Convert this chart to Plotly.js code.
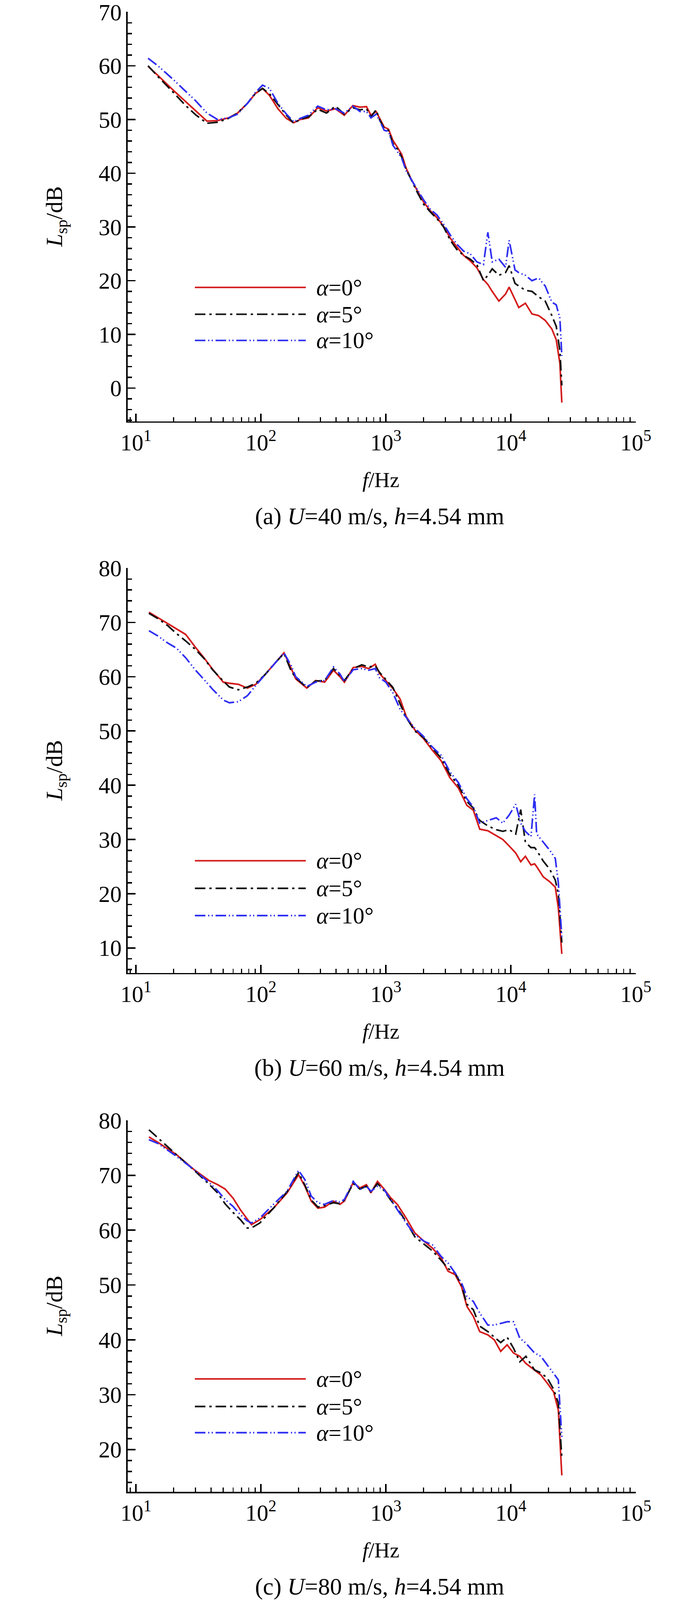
<!DOCTYPE html>
<html>
<head>
<meta charset="utf-8">
<script src="https://cdn.plot.ly/plotly-3.0.1.min.js"></script>
<style>
html, body { margin: 0; padding: 0; background: #fff; overflow: hidden; }
#plotter { width: 100vw; height: 100vh; }
</style>
</head>
<body>
<div id="plotter"></div>
<script>
// (a) U=40 m/s
var freqA = [12.5, 15, 20, 25, 30, 37, 45, 55, 65, 78, 90, 103, 117, 137, 160, 183, 206, 240, 285, 335,
    395, 465, 545, 620, 700, 760, 835, 890, 970, 1050, 1140, 1240, 1340, 1450, 1580, 1780, 2010, 2270, 2570, 2900,
    3280, 3700, 4190, 4730, 5350, 6040, 6550, 7100, 8030, 9070, 9700, 10800, 11580, 13080, 14780, 16700, 18860, 21300, 23100, 24700,
    25600];
var a0 = [59.9, 58.2, 55.4, 53.3, 51.6, 49.7, 49.8, 50.3, 51.2, 53.0, 54.8, 55.8, 54.5, 52.0, 50.2, 49.4, 50.0, 50.3, 52.2, 51.6,
    52.0, 50.8, 52.6, 52.3, 52.4, 50.8, 51.5, 50.2, 48.6, 48.2, 46.1, 44.8, 43.5, 41.0, 39.1, 36.8, 34.6, 33.0, 31.7, 30.1,
    27.9, 26.3, 24.7, 23.7, 22.4, 20.2, 19.3, 18.0, 16.2, 17.5, 18.8, 16.5, 15.0, 15.8, 13.8, 13.5, 12.6, 11.0, 9.0, 4.6,
    -2.7];
var a5 = [60.0, 58.0, 55.0, 52.6, 50.9, 49.3, 49.5, 50.2, 51.2, 53.0, 54.8, 55.8, 54.8, 52.8, 50.8, 49.3, 50.0, 50.5, 51.9, 51.2,
    52.5, 51.0, 52.2, 51.8, 52.0, 50.5, 51.8, 50.0, 48.3, 48.0, 45.5, 44.5, 43.0, 40.8, 39.0, 36.5, 34.2, 32.8, 31.5, 30.0,
    27.5, 25.8, 24.7, 24.0, 23.0, 20.0, 21.0, 22.2, 21.0, 21.5, 22.8, 19.5, 19.0, 18.2, 18.0, 17.0, 16.2, 13.5, 11.5, 7.0,
    0.5];
var a10 = [61.4, 60.0, 57.4, 55.2, 53.5, 51.2, 50.0, 50.3, 51.0, 53.0, 55.0, 56.4, 55.8, 53.0, 51.0, 49.6, 50.2, 50.8, 52.5, 51.8,
    52.0, 51.2, 52.5, 51.5, 51.5, 50.3, 51.0, 49.8, 48.0, 47.8, 45.2, 44.0, 42.8, 40.5, 39.0, 37.0, 35.0, 33.3, 32.2, 30.5,
    28.5, 26.8, 25.5, 25.0, 23.5, 23.0, 29.0, 23.5, 24.0, 22.5, 27.5, 22.0, 21.5, 21.0, 20.0, 20.5, 19.0, 16.0, 15.5, 13.0,
    6.0];

// (b) U=60 m/s
var freqB = [12.7, 15, 18, 21, 25, 30, 35, 41, 50, 56, 66, 78, 91, 107, 126, 153, 175, 190, 233, 274,
    324, 381, 429, 466, 548, 642, 728, 823, 890, 1000, 1140, 1300, 1454, 1705, 2000, 2364, 2770, 3250, 3800, 4450,
    5010, 5640, 6550, 7650, 8630, 9700, 10950, 12000, 13080, 14500, 15500, 16100, 18200, 20500, 22700, 24000, 25600];
var b0 = [71.9, 70.9, 69.8, 68.8, 67.8, 65.4, 63.5, 61.4, 59.0, 58.8, 58.6, 57.9, 58.6, 60.3, 62.2, 64.4, 61.5, 59.6, 57.9, 59.3,
    59.0, 61.2, 60.0, 59.0, 61.7, 61.9, 61.5, 62.3, 60.6, 59.3, 57.8, 55.9, 52.7, 50.2, 48.6, 46.4, 44.5, 41.4, 39.5, 36.3,
    35.4, 31.9, 31.6, 30.7, 30.0, 28.8, 27.5, 25.9, 26.9, 25.3, 25.5, 25.0, 23.1, 22.2, 21.2, 17.4, 8.9];
var b5 = [71.7, 70.7, 69.4, 68.0, 66.6, 65.0, 63.4, 61.3, 59.2, 58.1, 57.6, 58.1, 58.8, 60.3, 62.2, 64.3, 61.0, 59.8, 58.0, 59.2,
    59.3, 61.5, 60.2, 59.3, 61.5, 62.2, 61.8, 62.0, 60.8, 59.5, 58.0, 55.0, 52.5, 50.0, 48.8, 46.8, 45.0, 42.0, 40.0, 37.0,
    35.8, 33.5, 32.5, 31.8, 31.5, 31.8, 31.0, 35.5, 29.5, 28.5, 28.5, 28.0, 26.0, 24.5, 22.5, 20.0, 11.0];
var b10 = [68.5, 67.5, 66.2, 65.3, 63.5, 61.2, 59.5, 57.7, 55.7, 55.2, 55.4, 56.5, 58.4, 60.3, 62.2, 64.4, 62.0, 60.0, 58.2, 59.0,
    59.3, 61.8, 60.5, 59.1, 61.3, 61.5, 61.2, 61.5, 59.8, 59.0, 57.0, 54.0, 52.5, 50.5, 49.0, 47.0, 45.5, 42.5, 40.5, 37.5,
    36.0, 33.0, 33.5, 34.0, 33.0, 34.5, 36.5, 33.0, 31.5, 30.5, 38.3, 31.0, 29.5, 28.0, 26.5, 22.0, 12.0];

// (c) U=80 m/s
var freqC = [12.7, 15, 21, 29.3, 38.8, 45, 51.7, 60, 68.6, 77.7, 84, 98, 126, 162, 200, 225, 253, 286, 323, 381,
    429, 466, 548, 619, 699, 759, 857, 968, 1092, 1236, 1454, 1705, 2014, 2364, 2770, 3150, 3580, 4030, 4453, 5010,
    5640, 6551, 7380, 8300, 9340, 10500, 11800, 13200, 15500, 17400, 19600, 22000, 24000, 25600];
var c0 = [77.0, 76.0, 73.8, 71.0, 69.0, 68.3, 67.5, 65.8, 63.7, 62.0, 61.0, 61.9, 64.0, 66.8, 70.1, 68.0, 65.3, 64.0, 64.2, 65.3,
    64.7, 65.3, 68.7, 67.7, 68.3, 66.8, 68.9, 67.5, 65.9, 64.7, 62.2, 59.5, 58.0, 56.7, 54.9, 52.5, 51.9, 49.7, 46.1, 44.3,
    41.5, 40.9, 40.0, 37.9, 39.1, 37.6, 37.0, 35.7, 34.5, 33.6, 32.1, 30.5, 27.2, 15.3];
var c5 = [78.3, 76.8, 73.8, 70.9, 68.3, 66.8, 64.8, 63.2, 61.9, 60.4, 60.4, 61.3, 64.0, 67.0, 70.5, 68.2, 65.5, 64.2, 64.5, 65.0,
    64.8, 65.5, 68.5, 67.5, 68.0, 67.0, 68.5, 67.2, 65.5, 64.0, 61.5, 58.8, 57.5, 56.2, 54.5, 53.0, 52.2, 50.0, 46.5, 45.5,
    42.5, 41.5, 40.5, 39.5, 40.5, 38.5, 36.0, 37.0, 34.5, 34.0, 33.0, 31.0, 28.5, 18.5];
var c10 = [76.5, 75.8, 73.5, 71.0, 68.6, 67.2, 65.6, 64.3, 62.8, 61.7, 61.3, 62.2, 64.7, 67.1, 70.9, 69.2, 66.2, 65.0, 64.7, 65.4,
    65.1, 65.6, 68.9, 67.4, 68.0, 67.1, 68.0, 67.4, 65.6, 63.7, 61.3, 59.2, 58.0, 57.3, 55.2, 54.0, 52.2, 50.4, 47.9, 47.0,
    44.9, 42.7, 42.7, 43.0, 43.3, 43.3, 40.3, 39.4, 37.6, 37.0, 35.4, 33.9, 32.7, 22.3];

var seriesNames = ['<i>α</i>=0°', '<i>α</i>=5°', '<i>α</i>=10°'];
var captions = ['(a) <i>U</i>=40 m/s, <i>h</i>=4.54 mm',
    '(b) <i>U</i>=60 m/s, <i>h</i>=4.54 mm',
    '(c) <i>U</i>=80 m/s, <i>h</i>=4.54 mm'];
var xTickVals = [10, 100, 1000, 10000, 100000];
var xTickText = ['10<sup>1</sup>', '10<sup>2</sup>', '10<sup>3</sup>', '10<sup>4</sup>', '10<sup>5</sup>'];
var xMinorVals = [9, 20, 30, 40, 50, 60, 70, 80, 90, 200, 300, 400, 500, 600, 700, 800, 900,
    2000, 3000, 4000, 5000, 6000, 7000, 8000, 9000, 20000, 30000, 40000, 50000, 60000, 70000, 80000, 90000];
var xTitle = '<i>f</i>/Hz';
var yTitle = '<i>L</i><sub>sp</sub>/dB';

// geometry is given in the 1772 x 4465 reference frame, then fitted to the window
var REF_W = 1772, REF_H = 4465;
var W = window.innerWidth || REF_W,
    H = window.innerHeight || REF_H;
var k = Math.min(W / REF_W, H / REF_H);
var plotLeft = 327, plotRight = 1628;
var panels = [
    {freq: freqA, ys: [a0, a5, a10], yrange: [-6.2, 70.05], top: 33, bottom: 1176, legendY: [802, 877, 950]},
    {freq: freqB, ys: [b0, b5, b10], yrange: [5.4, 80.05], top: 1585, bottom: 2715, legendY: [2402, 2479, 2555]},
    {freq: freqC, ys: [c0, c5, c10], yrange: [12.3, 80.05], top: 3126, bottom: 4163, legendY: [3848, 3925, 3998]}
];
var colors = ['#d41c1c', '#111111', '#2e2ef2'];
var dashes = ['solid', '27px,10px,6px,10px', '27px,7px,3px,6px,3px,7px'];
var serif = 'Liberation Serif, Times New Roman, serif';

function fx(p) {
    return p / REF_W;
}

function fy(p) {
    return 1 - p / REF_H;
}

function font(size) {
    return {family: serif, size: Math.round(size * k), color: '#000'};
}

var data = [], shapes = [], annotations = [];
var layout = {
    width: W,
    height: H,
    margin: {l: 0, r: 0, t: 0, b: 0},
    paper_bgcolor: '#fff',
    plot_bgcolor: 'rgba(0,0,0,0)',
    showlegend: false,
    font: font(62)
};

panels.forEach(function (p, i) {
    var n = i === 0 ? '' : String(i + 1);
    var xa = 'x' + n, ya = 'y' + n;

    p.ys.forEach(function (y, j) {
        data.push({
            x: p.freq,
            y: y,
            xaxis: xa,
            yaxis: ya,
            mode: 'lines',
            name: seriesNames[j],
            line: {color: colors[j], width: 4.5 * k, dash: dashes[j]}
        });
    });

    layout['xaxis' + n] = {
        type: 'log',
        range: [0.934, 5],
        domain: [fx(plotLeft), fx(plotRight)],
        anchor: ya,
        showline: true, linecolor: '#000', linewidth: 4 * k,
        showgrid: false, zeroline: false,
        ticks: 'inside', ticklen: 22 * k, tickwidth: 4 * k, tickcolor: '#000',
        tickmode: 'array', tickvals: xTickVals, ticktext: xTickText,
        ticklabelstandoff: 12 * k,
        ticklabeloverflow: 'allow',
        tickfont: font(64),
        minor: {tickmode: 'array', tickvals: xMinorVals, ticks: 'inside', ticklen: 12 * k, tickwidth: 3 * k, tickcolor: '#000', showgrid: false}
    };
    layout['yaxis' + n] = {
        range: p.yrange,
        domain: [fy(p.bottom), fy(p.top)],
        anchor: xa,
        showline: true, linecolor: '#000', linewidth: 4 * k,
        showgrid: false, zeroline: false,
        ticks: 'inside', ticklen: 22 * k, tickwidth: 4 * k, tickcolor: '#000',
        tick0: 0, dtick: 10,
        ticklabelstandoff: 10 * k,
        ticklabeloverflow: 'allow',
        tickfont: font(64),
        minor: {dtick: 2, tick0: 0, ticks: 'inside', ticklen: 12 * k, tickwidth: 4 * k, tickcolor: '#000', showgrid: false}
    };

    // legend drawn inside each panel
    p.legendY.forEach(function (ly, j) {
        shapes.push({
            type: 'line', xref: 'paper', yref: 'paper',
            x0: fx(499), x1: fx(783), y0: fy(ly), y1: fy(ly),
            line: {color: colors[j], width: 4.5 * k, dash: dashes[j]}
        });
        annotations.push({
            xref: 'paper', yref: 'paper', x: fx(808), y: fy(ly),
            xanchor: 'left', yanchor: 'middle', showarrow: false,
            text: seriesNames[j], font: font(64)
        });
    });

    // axis titles and caption
    annotations.push({
        xref: 'paper', yref: 'paper', x: fx(143), y: fy((p.top + p.bottom) / 2),
        xanchor: 'center', yanchor: 'middle', textangle: -90, showarrow: false,
        text: yTitle, font: font(64)
    });
    annotations.push({
        xref: 'paper', yref: 'paper', x: fx(975), y: fy(p.bottom + 163),
        xanchor: 'center', yanchor: 'middle', showarrow: false,
        text: xTitle, font: font(60)
    });
    annotations.push({
        xref: 'paper', yref: 'paper', x: fx(972), y: fy(p.bottom + 265),
        xanchor: 'center', yanchor: 'middle', showarrow: false,
        text: captions[i], font: font(66)
    });
});

layout.shapes = shapes;
layout.annotations = annotations;

Plotly.newPlot('plotter', data, layout, {staticPlot: true});
</script>
</body>
</html>
